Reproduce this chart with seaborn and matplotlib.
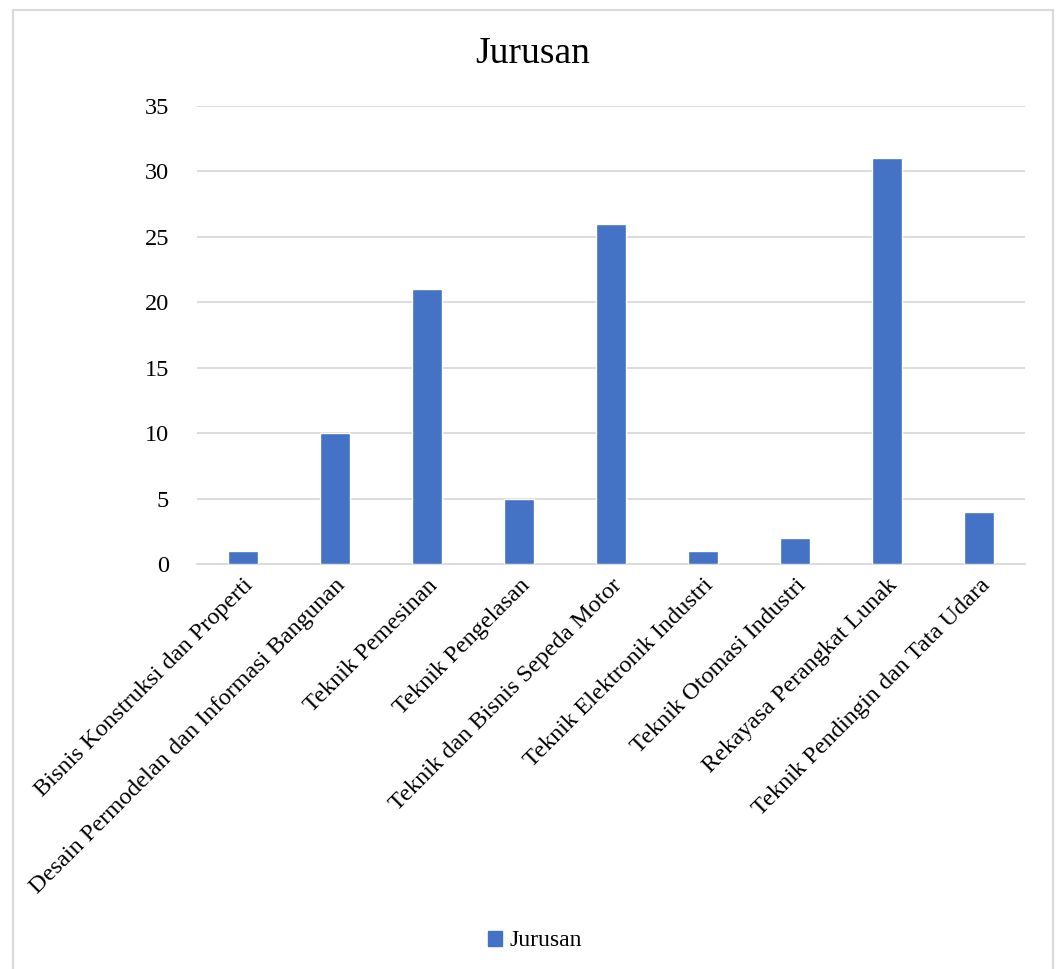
import matplotlib
matplotlib.use("Agg")
import matplotlib.pyplot as plt
from matplotlib.patches import Rectangle, Patch
import seaborn as sns
import pandas as pd

categories = [
    "Bisnis Konstruksi dan Properti",
    "Desain Permodelan dan Informasi Bangunan",
    "Teknik Pemesinan",
    "Teknik Pengelasan",
    "Teknik dan Bisnis Sepeda Motor",
    "Teknik Elektronik Industri",
    "Teknik Otomasi Industri",
    "Rekayasa Perangkat Lunak",
    "Teknik Pendingin dan Tata Udara",
]
values = [1, 10, 21, 5, 26, 1, 2, 31, 4]
y_ticks = [0, 5, 10, 15, 20, 25, 30, 35]
series_name = "Jurusan"

sns.set_theme(style="white")
plt.rcParams["font.family"] = ["Liberation Serif", "DejaVu Serif"]

df = pd.DataFrame({"Jurusan": categories, "Jumlah": values})

fig = plt.figure(figsize=(10.59, 9.69), dpi=100)
ax = fig.add_axes([0.186, 0.418, 0.782, 0.4726])

bar_color = "#4472C4"
sns.barplot(data=df, x="Jurusan", y="Jumlah", color=bar_color, width=0.32,
            saturation=1, ax=ax, zorder=3)

ax.set_ylim(0, 35)
ax.set_xlim(-0.5, len(categories) - 0.5)
ax.set_yticks(y_ticks)
ax.yaxis.grid(True, color="#D9D9D9", linewidth=1.3, zorder=0)
ax.xaxis.grid(False)
for s in ["top", "right", "left"]:
    ax.spines[s].set_visible(False)
ax.spines["bottom"].set_color("#D9D9D9")
ax.spines["bottom"].set_linewidth(1.3)
ax.tick_params(axis="y", length=0, labelsize=17.5, pad=20, colors="black")
ax.tick_params(axis="x", length=0, labelsize=17.5, pad=8, colors="black")
ax.set_xlabel("")
ax.set_ylabel("")
plt.setp(ax.get_xticklabels(), rotation=45, ha="right", rotation_mode="anchor")

fig.text(0.503, 0.945, series_name, ha="center", va="center", fontsize=27,
         color="black")

handle = Patch(facecolor=bar_color, edgecolor=bar_color, label=series_name)
fig.legend(handles=[handle], loc="center", bbox_to_anchor=(0.505, 0.029),
           frameon=False, fontsize=17, handlelength=0.6, handleheight=0.6,
           handletextpad=0.3, labelcolor="black")

# light frame around the chart area
fig.patches.append(Rectangle((13 / 1059, -0.01), 1040 / 1059, 1 - 10 / 969 + 0.01,
                             transform=fig.transFigure, fill=False,
                             edgecolor="#D9D9D9", linewidth=1.5))

fig.savefig("out.png", dpi=100, facecolor="white")
